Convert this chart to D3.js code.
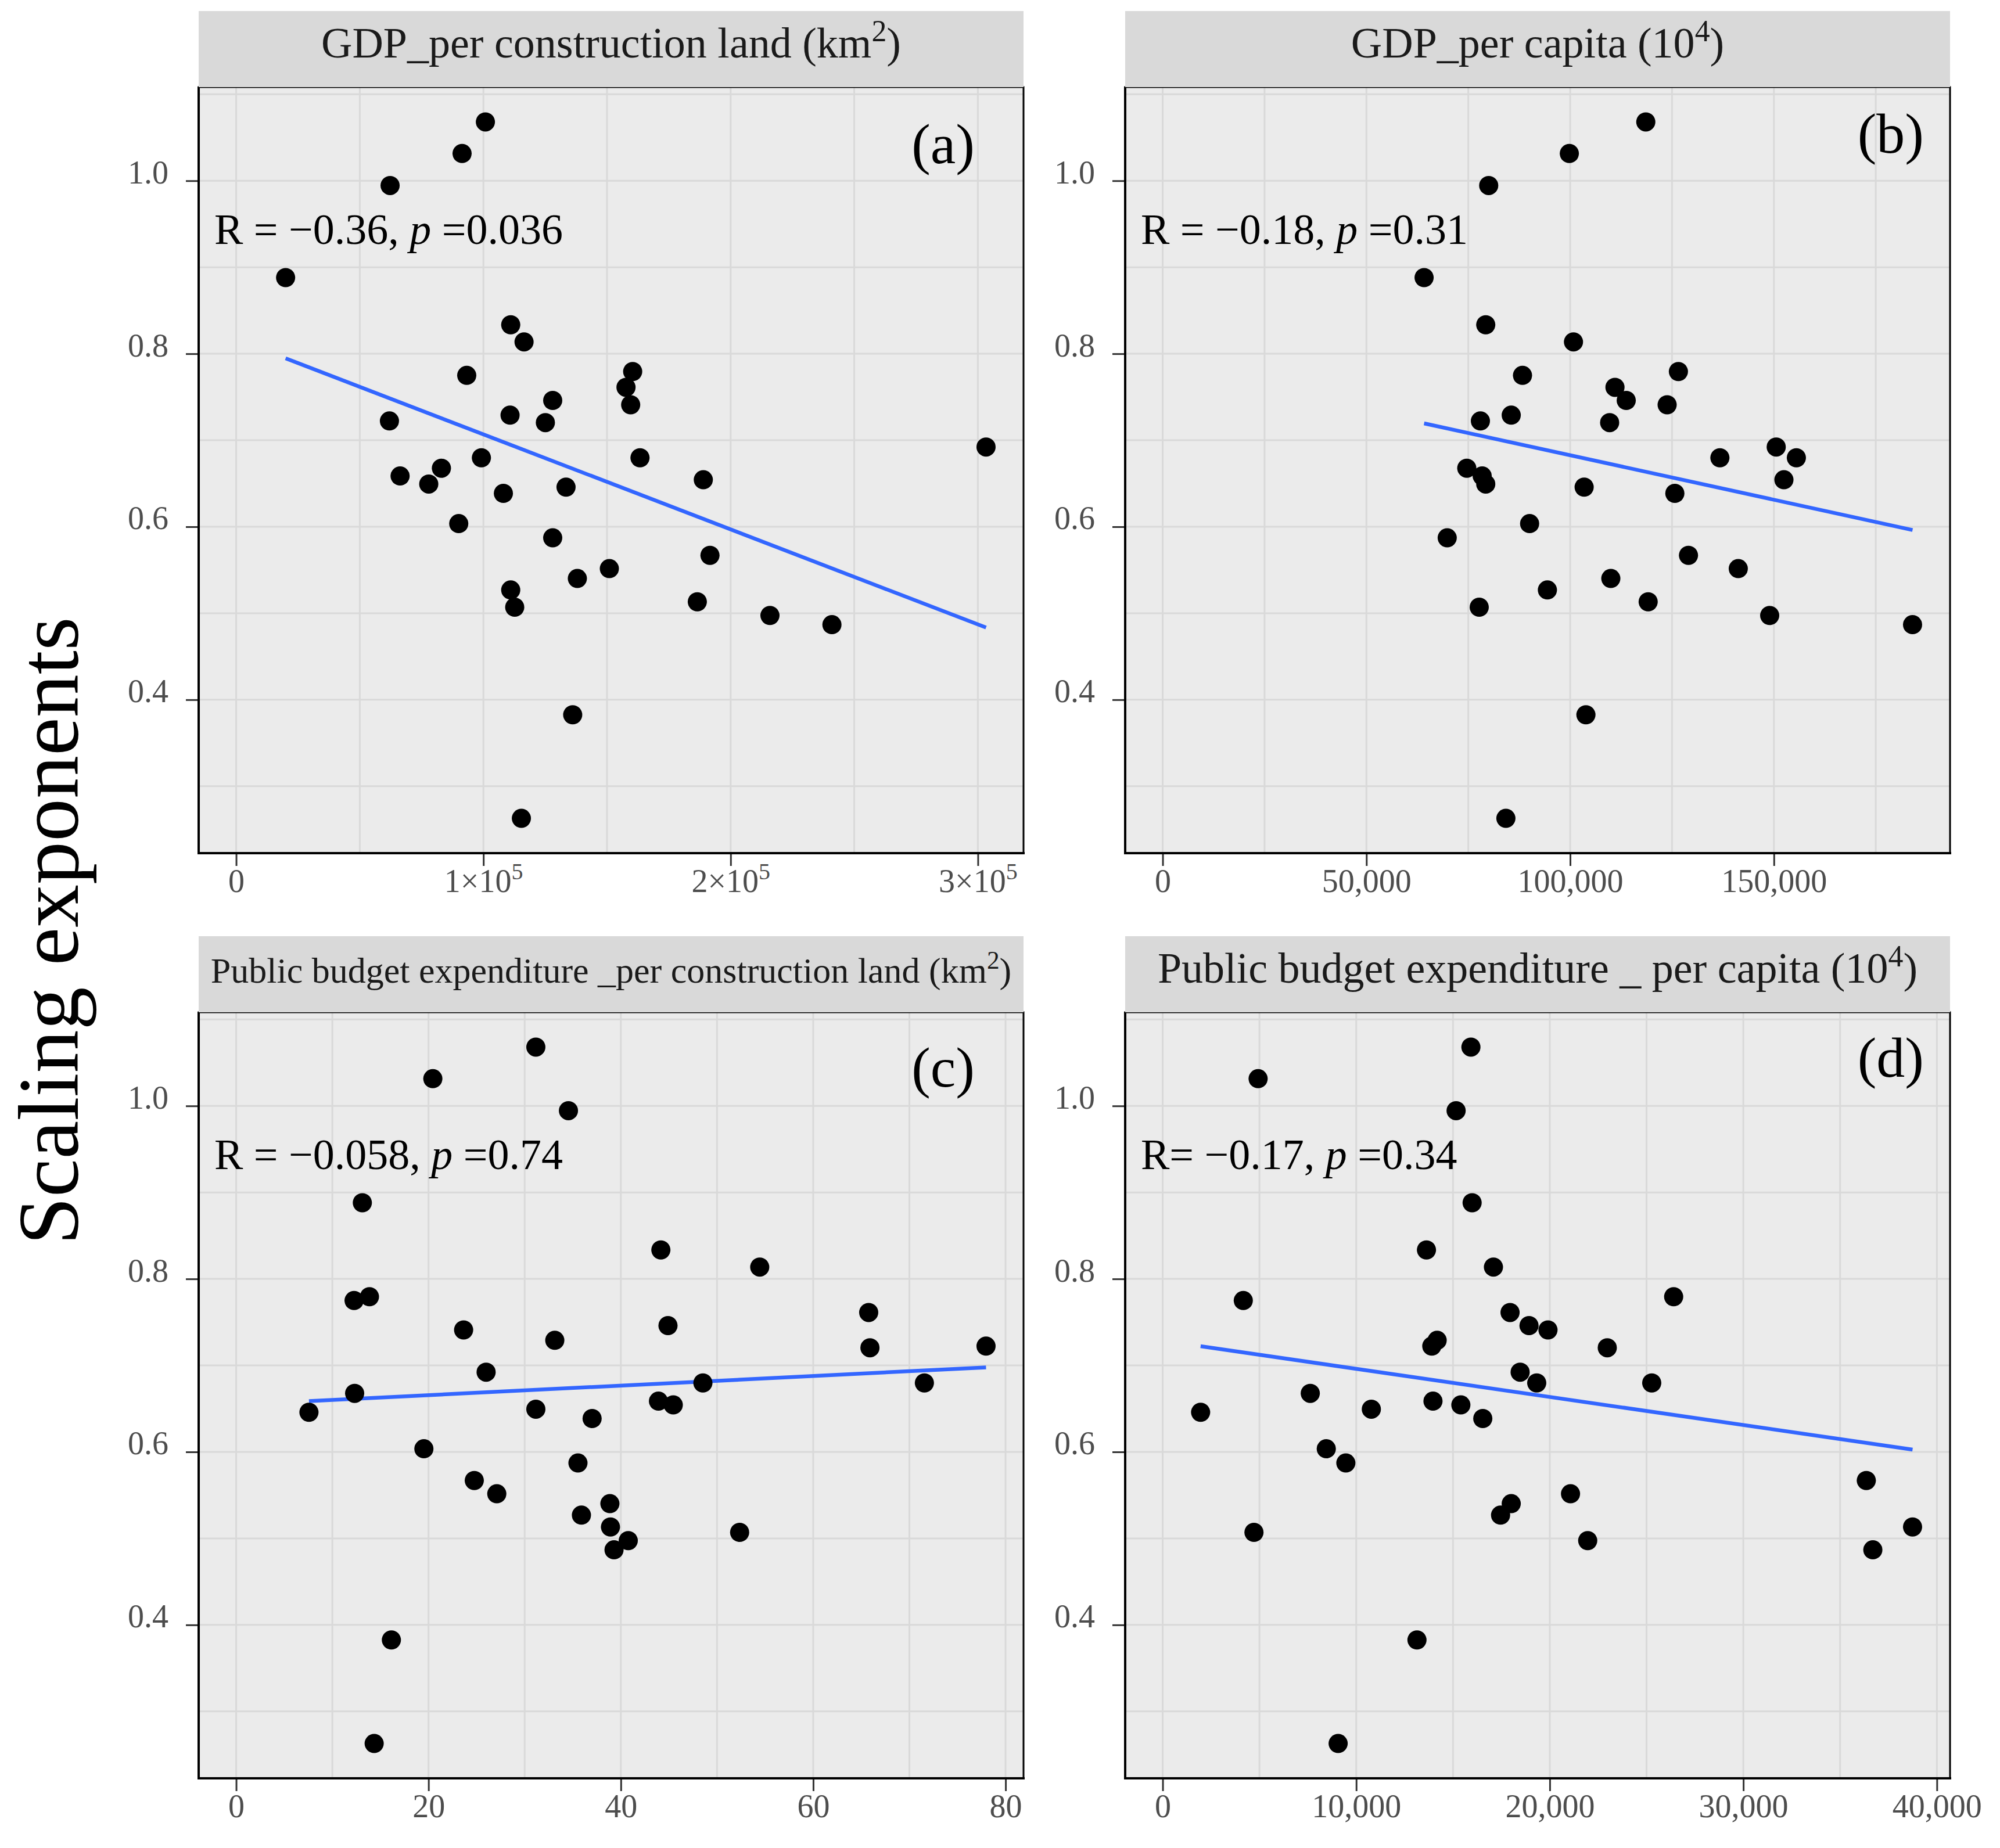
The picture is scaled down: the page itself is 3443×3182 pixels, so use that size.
<!DOCTYPE html>
<html><head><meta charset="utf-8">
<script src="https://cdn.jsdelivr.net/npm/d3@7"></script>
<style>body{margin:0;background:#fff} svg{display:block}</style>
</head><body>
<script>
// ---- data (one entry per city, same order in every array) ----
const scalingExp = [0.888,0.9945,1.0315,1.068,0.8335,0.8137,0.775,0.7223,0.729,0.746,
  0.7204,0.7794,0.7612,0.741,0.6797,0.6797,0.6587,0.6677,0.6494,0.6386,
  0.6458,0.6543,0.6036,0.5872,0.5516,0.5402,0.5669,0.5269,0.507,0.5132,
  0.4974,0.4868,0.6922,0.3826,0.2629];
const gdpPerLand = [20000,62264,91375,100808,111051,116442,93261,61995,110782,128032,
  125067,160377,157682,159569,163342,99191,66307,83019,77898,108086,
  133423,188949,90027,128032,150943,138005,191644,111051,112668,186523,
  215903,240970,303300,136118,115364];
const gdpPerCapita = [64155,80012,99796,118563,79284,100815,88304,77975,85540,113762,
  109689,126564,110998,123800,136748,155514,78411,74629,79284,125691,
  103433,152459,90050,69828,141257,109980,129037,94414,77684,119145,
  148967,184027,150568,103869,84230];
const pbePerLand = [13.12,34.55,20.45,31.16,44.16,54.44,12.26,77.97,33.13,44.90,
  65.90,13.86,65.77,23.65,48.53,71.56,43.91,12.32,31.16,37.01,
  7.57,45.45,19.52,35.54,27.10,38.86,24.76,35.90,52.35,38.92,
  40.77,39.29,25.99,16.14,14.35];
const pbePerCapita = [15988,15161,4931,15926,13629,17090,4165,13905,14181,18928,
  22971,26401,17948,19908,19326,25268,13966,7626,10781,16539,
  1960,15406,8453,9464,21072,18009,36355,17458,4717,38744,
  21960,36692,18469,13139,9066];

const yTicks = [0.4,0.6,0.8,1.0];
const yMinor = [0.3,0.5,0.7,0.9,1.1];
const ticksA = [0,100000,200000,300000];
const ticksB = [0,50000,100000,150000];
const ticksC = [0,20,40,60,80];
const ticksD = [0,10000,20000,30000,40000];
const tickLabelsA = [["0",""],["1×10","5"],["2×10","5"],["3×10","5"]];
const annotations = ["R = −0.36, |p| =0.036","R = −0.18, |p| =0.31","R = −0.058, |p| =0.74","R= −0.17, |p| =0.34"];
const panelTags = ["(a)","(b)","(c)","(d)"];
const stripTitles = [
  [["GDP_per construction land (km",""],["2","sup"],[")",""]],
  [["GDP_per capita (10",""],["4","sup"],[")",""]],
  [["Public budget expenditure _per construction land (km",""],["2","sup"],[")",""]],
  [["Public budget expenditure _ per capita (10",""],["4","sup"],[")",""]]
];
const yTitle = "Scaling exponents";

// ---- layout ----
const W = 3443, H = 3182;
const colX = [342, 1937], rowY = [150, 1743];
const PW = 1420, PH = 1319, STRIP = 131;
const FONT = '"Liberation Serif","Times New Roman",Times,serif';

const svg = d3.select("body").append("svg")
  .attr("width", W).attr("height", H)
  .style("font-family", FONT);
svg.append("rect").attr("width", W).attr("height", H).attr("fill", "#fff");

const yExt = d3.extent(scalingExp);
const yPad = (yExt[1] - yExt[0]) * 0.05;

const panels = [
  {xs: gdpPerLand, ticks: ticksA, fmt: null, col: 0, row: 0, stripFont: 74, tagDx: 84, tagDy: 131},
  {xs: gdpPerCapita, ticks: ticksB, fmt: d3.format(","), col: 1, row: 0, stripFont: 74, tagDx: 45, tagDy: 113},
  {xs: pbePerLand, ticks: ticksC, fmt: d3.format("d"), col: 0, row: 1, stripFont: 62, tagDx: 84, tagDy: 128},
  {xs: pbePerCapita, ticks: ticksD, fmt: d3.format(","), col: 1, row: 1, stripFont: 74, tagDx: 45, tagDy: 111}
];

panels.forEach((p, i) => {
  const left = colX[p.col], top = rowY[p.row];
  const g = svg.append("g").attr("transform", `translate(${left},${top})`);
  const xMax = d3.max(p.xs);
  const xPad = xMax * 0.05;
  const x = d3.scaleLinear().domain([-xPad, xMax + xPad]).range([0, PW]);
  const y = d3.scaleLinear().domain([yExt[0] - yPad, yExt[1] + yPad]).range([PH, 0]);

  // strip
  const sg = svg.append("g").attr("transform", `translate(${left},${top - STRIP})`);
  sg.append("rect").attr("width", PW).attr("height", STRIP).attr("fill", "#D9D9D9");
  const st = sg.append("text").attr("x", PW / 2).attr("y", 80)
    .attr("text-anchor", "middle").attr("font-size", p.stripFont).attr("fill", "#1A1A1A");
  stripTitles[i].forEach(([t, kind]) => {
    if (kind === "sup") {
      st.append("tspan").attr("font-size", p.stripFont * 0.7).attr("dy", -p.stripFont * 0.38).text(t);
    } else {
      const ts = st.append("tspan").text(t);
      if (t.startsWith(")")) ts.attr("dy", p.stripFont * 0.38);
    }
  });

  // background
  g.append("rect").attr("width", PW).attr("height", PH).attr("fill", "#EBEBEB");

  // grid
  const xStep = p.ticks[1] - p.ticks[0];
  const xMinor = p.ticks.map(t => t + xStep / 2).concat([p.ticks[0] - xStep / 2])
    .filter(v => x(v) > 0 && x(v) < PW);
  const gridColor = "#D9D9D9";
  g.selectAll(".gx").data(p.ticks.concat(xMinor).filter(v => x(v) >= 0 && x(v) <= PW)).join("line")
    .attr("x1", d => x(d)).attr("x2", d => x(d)).attr("y1", 0).attr("y2", PH)
    .attr("stroke", gridColor).attr("stroke-width", 3);
  g.selectAll(".gy").data(yTicks.concat(yMinor).filter(v => y(v) >= 0 && y(v) <= PH)).join("line")
    .attr("y1", d => y(d)).attr("y2", d => y(d)).attr("x1", 0).attr("x2", PW)
    .attr("stroke", gridColor).attr("stroke-width", 3);

  // regression line (least squares)
  const xs = p.xs, ys = scalingExp;
  const mx = d3.mean(xs), my = d3.mean(ys);
  const sxy = d3.sum(xs, (v, k) => (v - mx) * (ys[k] - my));
  const sxx = d3.sum(xs, v => (v - mx) * (v - mx));
  const b = sxy / sxx, a = my - b * mx;
  const xr = d3.extent(xs);
  const fit = xr.map(v => [v, a + b * v]);
  g.append("path").datum(fit)
    .attr("d", d3.line().x(d => x(d[0])).y(d => y(d[1])))
    .attr("stroke", "#3366FF").attr("stroke-width", 6.5).attr("fill", "none");

  // points
  g.selectAll(".pt").data(xs.map((v, k) => [v, ys[k]])).join("circle")
    .attr("cx", d => x(d[0])).attr("cy", d => y(d[1])).attr("r", 16.5).attr("fill", "#000");

  // annotation
  const at = g.append("text").attr("x", 27).attr("y", 270).attr("font-size", 74).attr("fill", "#000");
  annotations[i].split("|").forEach((part, k) => {
    const ts = at.append("tspan").text(part);
    if (k === 1) ts.attr("font-style", "italic");
  });

  // panel tag
  g.append("text").attr("x", PW - p.tagDx).attr("y", p.tagDy).attr("text-anchor", "end")
    .attr("font-size", 98).attr("fill", "#000").text(panelTags[i]);

  // border + axis lines
  g.append("rect").attr("width", PW).attr("height", PH).attr("fill", "none")
    .attr("stroke", "#000").attr("stroke-width", 3);
  g.append("line").attr("x1", 0).attr("x2", 0).attr("y1", -1).attr("y2", PH + 2)
    .attr("stroke", "#000").attr("stroke-width", 4);
  g.append("line").attr("x1", -2).attr("x2", PW + 2).attr("y1", PH).attr("y2", PH)
    .attr("stroke", "#000").attr("stroke-width", 4);

  // x axis
  const xa = g.append("g").attr("transform", `translate(0,${PH + 2})`)
    .call(d3.axisBottom(x).tickValues(p.ticks).tickSize(20).tickSizeOuter(0));
  xa.select(".domain").remove();
  xa.selectAll(".tick line").attr("stroke", "#333333").attr("stroke-width", 3);
  xa.selectAll(".tick text").attr("y", 65).attr("dy", null)
    .attr("font-size", 56).attr("fill", "#4D4D4D").attr("font-family", FONT)
    .each(function (d, k) {
      const t = d3.select(this);
      t.text(null);
      if (p.fmt) { t.text(p.fmt(d)); }
      else {
        const [base, sup] = tickLabelsA[k];
        t.append("tspan").text(base);
        if (sup) t.append("tspan").attr("font-size", 40).attr("dy", -22).text(sup);
      }
    });

  // y axis
  const ya = g.append("g").attr("transform", "translate(-2,0)")
    .call(d3.axisLeft(y).tickValues(yTicks).tickFormat(d3.format(".1f")).tickSize(20).tickSizeOuter(0));
  ya.select(".domain").remove();
  ya.selectAll(".tick line").attr("stroke", "#333333").attr("stroke-width", 3);
  ya.selectAll(".tick text").attr("x", -50).attr("dy", 4)
    .attr("font-size", 56).attr("fill", "#4D4D4D").attr("font-family", FONT);
});

// y title
svg.append("text").attr("transform", "translate(134,1603) rotate(-90)")
  .attr("text-anchor", "middle").attr("font-size", 148).attr("fill", "#000")
  .text(yTitle);
</script>
</body></html>
